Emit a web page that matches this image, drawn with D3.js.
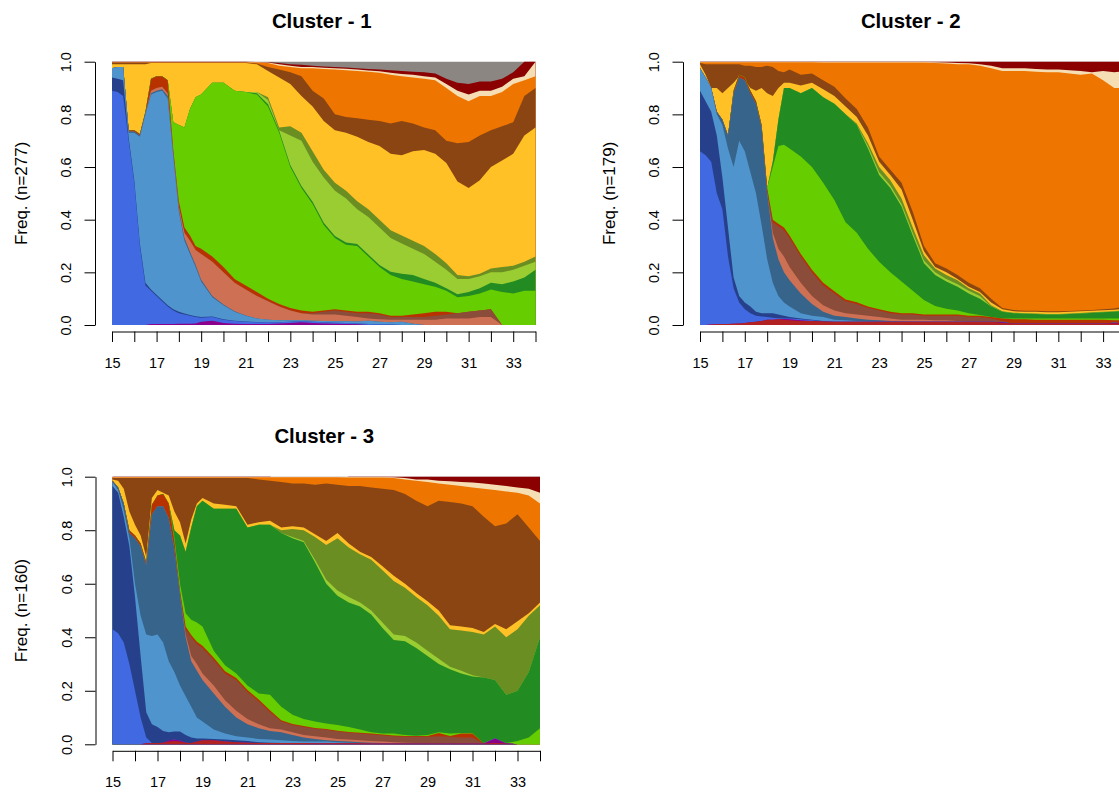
<!DOCTYPE html>
<html><head><meta charset="utf-8">
<script src="https://cdn.jsdelivr.net/npm/d3@7"></script>
<style>body{margin:0;background:#fff;} svg{display:block;font-family:"Liberation Sans",Arial,sans-serif;}</style>
</head><body><svg id="chart" width="1119" height="792"></svg>
<script>
// ---- shared axes / categories ----
const ages = [15,15.25,15.5,15.75,16,16.25,16.5,16.75,17,17.25,17.5,17.75,18,18.25,18.5,18.75,19,
  19.5,20,20.5,21,21.5,22,22.5,23,23.5,24,
  24.5,25,25.5,26,26.5,27,27.5,28,28.5,29,
  29.5,30,30.5,31,31.5,32,32.5,33,33.5,34];
const stateKeys = ["firebrick","purple","royalblue","darkblue","steelblue","darksteel","salmon","sienna","orangered",
  "chartreuse","forest","yellowgreen","olive","gold","saddlebrown","orange","wheat","darkred","gray"];
const stateColors = ["#B22222","#8B008B","#4169E1","#27408B","#4F94CD","#36648B","#CD7054","#8B4C39","#B83200",
  "#66CD00","#228B22","#9ACD32","#6B8E23","#FFC125","#8B4513","#EE7600","#F5DEB3","#8B0000","#8B8682"];
const clusterTitles = ["Cluster - 1","Cluster - 2","Cluster - 3"];
const clusterN = [277,179,160];
const yTicks = [0,0.2,0.4,0.6,0.8,1.0];
const xTicks = [15,16,17,18,19,20,21,22,23,24,25,26,27,28,29,30,31,32,33,34];
const xLabels = [15,17,19,21,23,25,27,29,31,33];

// ---- cumulative upper edge of each state band (proportion), cluster 1 ----
const c1_purple = [0,0,0,0,0,0,0,0.004,0.004,0.004,0.004,0.004,0.005,0.005,0.005,0.006,0.012,
  0.016,0.008,0.005,0.004,0.004,0.004,0.006,0.008,0.01,0.008,
  0.006,0.005,0.004,0.003,0,0,0,0,0,0,
  0,0,0,0,0,0,0,0,0,0];
const c1_royalblue = [0.89,0.885,0.87,0.70,0.54,0.30,0.15,0.13,0.11,0.09,0.07,0.055,0.045,0.04,0.035,0.03,0.028,
  0.03,0.02,0.015,0.012,0.01,0.01,0.01,0.012,0.014,0.012,
  0.01,0.009,0.008,0.006,0.004,0.003,0.002,0,0,0,
  0,0,0,0,0,0,0,0,0,0];
const c1_darkblue = [0.94,0.935,0.93,0.71,0.55,0.31,0.16,0.135,0.115,0.095,0.075,0.06,0.05,0.044,0.038,0.033,0.03,
  0.032,0.022,0.016,0.013,0.011,0.01,0.01,0.012,0.014,0.012,
  0.01,0.009,0.008,0.006,0.004,0.003,0.002,0,0,0,
  0,0,0,0,0,0,0,0,0,0];
const c1_steelblue = [0.975,0.98,0.98,0.73,0.73,0.715,0.8,0.875,0.885,0.89,0.86,0.64,0.43,0.32,0.27,0.22,0.165,
  0.105,0.075,0.05,0.035,0.025,0.02,0.018,0.018,0.018,0.016,
  0.015,0.014,0.014,0.013,0.016,0.012,0.01,0.012,0.005,0,
  0,0,0,0,0,0,0,0,0,0];
const c1_darksteel = [0.975,0.98,0.98,0.735,0.735,0.72,0.805,0.88,0.89,0.895,0.87,0.65,0.44,0.33,0.278,0.228,0.172,
  0.11,0.078,0.052,0.036,0.025,0.02,0.018,0.018,0.018,0.016,
  0.015,0.014,0.014,0.013,0.016,0.012,0.01,0.012,0.005,0,
  0,0,0,0,0,0,0,0,0,0];
const c1_salmon = [0.975,0.98,0.98,0.735,0.735,0.72,0.805,0.89,0.9,0.905,0.88,0.655,0.45,0.35,0.32,0.285,0.27,
  0.24,0.2,0.16,0.135,0.11,0.09,0.07,0.055,0.045,0.04,
  0.04,0.04,0.035,0.03,0.025,0.022,0.02,0.02,0.02,0.02,
  0.02,0.025,0.025,0.025,0.03,0.03,0,0,0,0];
const c1_sienna = [0.975,0.98,0.98,0.735,0.735,0.72,0.805,0.89,0.9,0.905,0.88,0.655,0.45,0.35,0.32,0.285,0.27,
  0.24,0.2,0.16,0.135,0.11,0.09,0.07,0.055,0.045,0.045,
  0.05,0.055,0.05,0.045,0.045,0.04,0.03,0.03,0.03,0.03,
  0.035,0.04,0.045,0.05,0.055,0.06,0,0,0,0];
const c1_orangered = [0.975,0.98,0.98,0.74,0.74,0.725,0.81,0.935,0.945,0.945,0.93,0.665,0.47,0.37,0.34,0.3,0.29,
  0.26,0.22,0.175,0.15,0.125,0.1,0.08,0.065,0.055,0.05,
  0.055,0.06,0.055,0.05,0.05,0.045,0.035,0.035,0.04,0.045,
  0.05,0.05,0.045,0.05,0.055,0.06,0,0,0,0];
const c1_chartreuse = [0.975,0.98,0.98,0.74,0.74,0.725,0.81,0.935,0.945,0.945,0.93,0.77,0.76,0.75,0.82,0.865,0.875,
  0.92,0.92,0.89,0.885,0.875,0.83,0.73,0.6,0.52,0.46,
  0.38,0.33,0.305,0.3,0.26,0.22,0.19,0.175,0.165,0.155,
  0.145,0.13,0.105,0.11,0.12,0.135,0.125,0.12,0.13,0.13];
const c1_forest = [0.975,0.98,0.98,0.74,0.74,0.725,0.81,0.935,0.945,0.945,0.93,0.77,0.76,0.75,0.82,0.865,0.875,
  0.92,0.92,0.89,0.885,0.88,0.838,0.738,0.608,0.528,0.468,
  0.388,0.338,0.313,0.308,0.268,0.228,0.202,0.195,0.19,0.175,
  0.16,0.14,0.117,0.125,0.14,0.16,0.155,0.165,0.18,0.21];
const c1_yellowgreen = [0.975,0.98,0.98,0.74,0.74,0.725,0.81,0.935,0.945,0.945,0.93,0.77,0.76,0.75,0.82,0.865,0.875,
  0.92,0.92,0.89,0.885,0.885,0.855,0.74,0.72,0.7,0.62,
  0.56,0.51,0.48,0.44,0.41,0.37,0.33,0.31,0.29,0.27,
  0.24,0.21,0.175,0.175,0.185,0.2,0.2,0.21,0.225,0.24];
const c1_olive = [0.975,0.98,0.98,0.74,0.74,0.725,0.81,0.935,0.945,0.945,0.93,0.77,0.76,0.75,0.82,0.865,0.875,
  0.92,0.92,0.89,0.885,0.885,0.865,0.75,0.755,0.73,0.66,
  0.59,0.54,0.51,0.47,0.44,0.4,0.36,0.34,0.32,0.3,
  0.27,0.235,0.19,0.185,0.195,0.215,0.22,0.225,0.24,0.26];
const c1_gold = [0.99,0.99,0.99,0.99,0.99,0.99,0.99,0.995,0.995,0.995,0.995,0.995,0.995,0.995,0.995,0.995,0.995,
  0.995,0.995,0.995,0.995,0.99,0.965,0.94,0.915,0.87,0.83,
  0.775,0.74,0.73,0.715,0.695,0.68,0.65,0.645,0.66,0.665,
  0.65,0.615,0.545,0.52,0.55,0.6,0.625,0.65,0.72,0.75];
const c1_saddlebrown = [0.997,0.997,0.997,0.997,0.997,0.997,0.997,0.997,0.997,0.997,0.997,0.997,0.997,0.997,0.997,0.997,0.997,
  0.997,0.997,0.997,0.997,0.993,0.98,0.97,0.96,0.945,0.89,
  0.86,0.8,0.79,0.785,0.78,0.775,0.765,0.775,0.765,0.75,
  0.74,0.7,0.69,0.695,0.72,0.74,0.755,0.77,0.87,0.9];
const c1_orange = [0.998,0.998,0.998,0.998,0.998,0.998,0.998,0.998,0.998,0.998,0.998,0.998,0.998,0.998,0.998,0.998,0.998,
  0.998,0.998,0.998,0.998,0.997,0.995,0.985,0.98,0.975,0.975,
  0.972,0.97,0.968,0.965,0.962,0.958,0.95,0.945,0.94,0.935,
  0.93,0.9,0.87,0.85,0.87,0.87,0.885,0.915,0.93,0.945];
const c1_wheat = [0.999,0.999,0.999,0.999,0.999,0.999,0.999,0.999,0.999,0.999,0.999,0.999,0.999,0.999,0.999,0.999,0.999,
  0.999,0.999,0.999,0.999,0.998,0.997,0.99,0.985,0.98,0.98,
  0.977,0.975,0.973,0.97,0.967,0.964,0.958,0.953,0.95,0.945,
  0.94,0.915,0.89,0.875,0.89,0.89,0.905,0.935,0.945,1.0];
const c1_darkred = [1,1,1,1,1,1,1,1,1,1,1,1,1,1,1,1,1,
  1,1,1,1,0.999,0.998,0.995,0.99,0.988,0.985,
  0.982,0.98,0.978,0.975,0.972,0.97,0.968,0.965,0.962,0.96,
  0.955,0.935,0.92,0.915,0.925,0.925,0.935,0.96,1.0,1.0];
const c1_gray = [1,1,1,1,1,1,1,1,1,1,1,1,1,1,1,1,1,
  1,1,1,1,1,1,1,1,1,1,
  1,1,1,1,1,1,1,1,1,1,
  1,1,1,1,1,1,1,1,1,1];

// ---- cluster 2 ----
const c2_firebrick = [0,0,0.002,0.003,0.004,0.004,0.005,0.006,0.008,0.01,0.012,0.015,0.02,0.02,0.022,0.02,0.018,
  0.015,0.015,0.013,0.012,0.012,0.012,0.012,0.012,0.012,0.012,
  0.012,0.012,0.012,0.012,0.012,0.012,0.012,0.012,0.008,0.006,
  0.006,0.006,0.006,0.006,0.006,0.006,0.006,0.006,0.006,0.006];
const c2_purple = [0,0,0.002,0.003,0.004,0.004,0.005,0.006,0.008,0.01,0.012,0.015,0.02,0.02,0.022,0.023,0.022,
  0.018,0.015,0.013,0.012,0.012,0.012,0.012,0.012,0.012,0.012,
  0.012,0.012,0.012,0.012,0.012,0.012,0.012,0.012,0.01,0.006,
  0.006,0.006,0.006,0.006,0.006,0.006,0.006,0.006,0.009,0.006];
const c2_royalblue = [0.66,0.645,0.62,0.5,0.44,0.26,0.14,0.085,0.06,0.045,0.035,0.032,0.03,0.028,0.026,0.025,0.025,
  0.022,0.018,0.013,0.012,0.012,0.012,0.012,0.012,0.012,0.012,
  0.012,0.012,0.012,0.012,0.012,0.012,0.012,0.012,0.01,0.006,
  0.006,0.006,0.006,0.006,0.006,0.006,0.006,0.006,0.009,0.006];
const c2_darkblue = [0.89,0.85,0.81,0.72,0.56,0.37,0.18,0.11,0.085,0.07,0.05,0.045,0.045,0.045,0.04,0.035,0.03,
  0.025,0.02,0.015,0.012,0.012,0.012,0.012,0.012,0.012,0.012,
  0.012,0.012,0.012,0.012,0.012,0.012,0.012,0.012,0.01,0.006,
  0.006,0.006,0.006,0.006,0.006,0.006,0.006,0.006,0.009,0.006];
const c2_steelblue = [0.975,0.94,0.9,0.8,0.76,0.67,0.6,0.7,0.66,0.58,0.5,0.38,0.25,0.16,0.11,0.085,0.07,
  0.045,0.035,0.03,0.02,0.018,0.015,0.013,0.012,0.012,0.012,
  0.012,0.012,0.012,0.012,0.012,0.012,0.012,0.012,0.01,0.006,
  0.006,0.006,0.006,0.006,0.006,0.006,0.006,0.006,0.009,0.006];
const c2_darksteel = [0.975,0.94,0.9,0.81,0.78,0.72,0.88,0.94,0.93,0.88,0.84,0.75,0.5,0.33,0.25,0.2,0.17,
  0.12,0.08,0.05,0.035,0.03,0.025,0.02,0.018,0.015,0.013,
  0.012,0.012,0.012,0.012,0.012,0.012,0.012,0.012,0.01,0.006,
  0.006,0.006,0.006,0.006,0.006,0.006,0.006,0.006,0.009,0.006];
const c2_salmon = [0.975,0.94,0.9,0.81,0.78,0.72,0.88,0.94,0.93,0.88,0.84,0.75,0.5,0.35,0.29,0.26,0.22,
  0.16,0.11,0.075,0.055,0.045,0.04,0.035,0.03,0.025,0.02,
  0.02,0.02,0.018,0.018,0.015,0.012,0.012,0.012,0.01,0.006,
  0.006,0.006,0.006,0.006,0.006,0.006,0.006,0.006,0.009,0.006];
const c2_sienna = [0.975,0.94,0.9,0.81,0.78,0.72,0.88,0.94,0.93,0.88,0.84,0.75,0.51,0.39,0.375,0.36,0.33,
  0.26,0.2,0.15,0.12,0.09,0.08,0.065,0.055,0.045,0.04,
  0.04,0.035,0.035,0.035,0.035,0.03,0.03,0.025,0.015,0.006,
  0.006,0.006,0.006,0.006,0.006,0.006,0.006,0.006,0.009,0.006];
const c2_orangered = [0.975,0.94,0.9,0.81,0.78,0.72,0.89,0.95,0.94,0.89,0.85,0.76,0.52,0.4,0.385,0.37,0.34,
  0.27,0.21,0.16,0.128,0.097,0.086,0.07,0.06,0.05,0.045,
  0.045,0.04,0.04,0.04,0.04,0.035,0.035,0.03,0.025,0.022,
  0.022,0.02,0.02,0.02,0.02,0.02,0.02,0.02,0.018,0.018];
const c2_chartreuse = [0.975,0.94,0.9,0.81,0.78,0.72,0.89,0.95,0.94,0.89,0.85,0.76,0.52,0.6,0.68,0.685,0.67,
  0.64,0.6,0.54,0.475,0.39,0.35,0.29,0.24,0.2,0.165,
  0.13,0.095,0.072,0.062,0.055,0.045,0.038,0.03,0.025,0.025,
  0.025,0.025,0.025,0.025,0.025,0.025,0.025,0.025,0.025,0.025];
const c2_forest = [0.975,0.94,0.9,0.81,0.78,0.72,0.89,0.95,0.94,0.89,0.85,0.76,0.52,0.62,0.78,0.9,0.9,
  0.88,0.9,0.865,0.84,0.8,0.76,0.67,0.57,0.52,0.45,
  0.34,0.235,0.19,0.165,0.145,0.12,0.1,0.07,0.05,0.045,
  0.043,0.042,0.04,0.04,0.042,0.044,0.046,0.048,0.05,0.055];
const c2_yellowgreen = [0.975,0.94,0.9,0.81,0.78,0.72,0.89,0.95,0.94,0.89,0.85,0.76,0.52,0.62,0.78,0.9,0.9,
  0.88,0.9,0.865,0.84,0.8,0.76,0.68,0.58,0.53,0.46,
  0.35,0.245,0.2,0.175,0.155,0.13,0.11,0.07,0.05,0.045,
  0.043,0.042,0.04,0.04,0.042,0.044,0.046,0.048,0.05,0.055];
const c2_olive = [0.975,0.94,0.9,0.81,0.78,0.72,0.89,0.95,0.94,0.89,0.85,0.76,0.52,0.62,0.78,0.9,0.9,
  0.88,0.9,0.865,0.84,0.8,0.765,0.69,0.6,0.55,0.48,
  0.37,0.265,0.215,0.19,0.17,0.14,0.12,0.075,0.052,0.047,
  0.045,0.044,0.042,0.042,0.044,0.046,0.048,0.05,0.052,0.057];
const c2_gold = [0.99,0.95,0.9,0.9,0.88,0.9,0.92,0.945,0.93,0.9,0.89,0.9,0.88,0.87,0.9,0.92,0.92,
  0.91,0.92,0.895,0.87,0.83,0.79,0.72,0.62,0.57,0.515,
  0.4,0.28,0.22,0.2,0.175,0.145,0.125,0.085,0.06,0.052,
  0.05,0.05,0.048,0.048,0.05,0.052,0.054,0.056,0.058,0.062];
const c2_saddlebrown = [0.995,0.99,0.99,0.99,0.99,0.99,0.99,0.99,0.985,0.985,0.98,0.98,0.985,0.98,0.965,0.96,0.97,
  0.95,0.955,0.93,0.905,0.86,0.82,0.75,0.64,0.59,0.54,
  0.43,0.3,0.235,0.215,0.19,0.16,0.14,0.1,0.065,0.057,
  0.054,0.054,0.052,0.052,0.053,0.055,0.057,0.06,0.063,0.072];
const c2_orange = [0.998,0.998,0.998,0.998,0.998,0.998,0.998,0.998,0.998,0.998,0.998,0.998,0.998,0.998,0.998,0.998,0.998,
  0.998,0.998,0.997,0.997,0.997,0.997,0.997,0.997,0.997,0.997,
  0.997,0.997,0.995,0.993,0.99,0.99,0.985,0.975,0.965,0.965,
  0.965,0.962,0.96,0.96,0.955,0.95,0.955,0.93,0.9,0.9];
const c2_wheat = [0.999,0.999,0.999,0.999,0.999,0.999,0.999,0.999,0.999,0.999,0.999,0.999,0.999,0.999,0.999,0.999,0.999,
  0.999,0.999,0.999,0.999,0.999,0.999,0.999,0.999,0.999,0.999,
  0.999,0.999,0.998,0.997,0.995,0.994,0.99,0.985,0.975,0.975,
  0.975,0.972,0.97,0.97,0.968,0.965,0.96,0.965,0.96,0.965];
const c2_darkred = c1_gray;

// ---- cluster 3 ----
const c3_firebrick = [0,0,0,0,0,0,0.004,0.005,0.005,0.006,0.01,0.012,0.01,0.006,0.005,0.01,0.015,
  0.015,0.01,0.008,0.006,0.005,0.005,0.005,0.005,0.005,0.004,
  0.004,0.004,0.004,0.004,0.003,0.003,0.003,0.003,0.003,0.003,
  0.003,0.003,0.003,0.003,0.003,0.005,0.003,0,0,0];
const c3_purple = [0,0,0,0,0,0,0.004,0.005,0.005,0.006,0.015,0.018,0.014,0.006,0.005,0.01,0.015,
  0.015,0.01,0.008,0.006,0.005,0.005,0.005,0.005,0.005,0.004,
  0.004,0.004,0.004,0.004,0.003,0.003,0.003,0.003,0.003,0.003,
  0.003,0.003,0.003,0.003,0.003,0.022,0.003,0,0,0];
const c3_royalblue = [0.43,0.415,0.38,0.3,0.2,0.1,0.025,0.005,0.005,0.006,0.015,0.018,0.014,0.006,0.005,0.01,0.015,
  0.015,0.01,0.008,0.006,0.005,0.005,0.005,0.005,0.005,0.004,
  0.004,0.004,0.004,0.004,0.003,0.003,0.003,0.003,0.003,0.003,
  0.003,0.003,0.003,0.003,0.003,0.022,0.003,0,0,0];
const c3_darkblue = [0.965,0.94,0.85,0.74,0.55,0.33,0.12,0.075,0.065,0.05,0.045,0.048,0.048,0.035,0.025,0.022,0.022,
  0.02,0.018,0.015,0.012,0.008,0.006,0.005,0.005,0.005,0.004,
  0.004,0.004,0.004,0.004,0.003,0.003,0.003,0.003,0.003,0.003,
  0.003,0.003,0.003,0.003,0.003,0.022,0.003,0,0,0];
const c3_steelblue = [0.98,0.95,0.875,0.77,0.6,0.48,0.41,0.405,0.41,0.38,0.31,0.27,0.22,0.18,0.14,0.1,0.085,
  0.055,0.04,0.03,0.025,0.02,0.018,0.015,0.012,0.01,0.01,
  0.01,0.008,0.006,0.005,0.003,0.003,0.003,0.003,0.003,0.003,
  0.003,0.003,0.003,0.003,0.003,0.022,0.003,0,0,0];
const c3_darksteel = [0.985,0.96,0.9,0.79,0.77,0.74,0.67,0.86,0.89,0.89,0.845,0.73,0.56,0.4,0.31,0.275,0.24,
  0.19,0.14,0.1,0.075,0.06,0.05,0.045,0.035,0.025,0.02,
  0.015,0.012,0.01,0.008,0.006,0.005,0.004,0.003,0.003,0.003,
  0.003,0.003,0.003,0.003,0.003,0.022,0.003,0,0,0];
const c3_salmon = [0.985,0.96,0.9,0.79,0.77,0.74,0.67,0.86,0.89,0.89,0.845,0.73,0.56,0.41,0.33,0.3,0.265,
  0.22,0.165,0.125,0.095,0.075,0.06,0.055,0.045,0.035,0.03,
  0.025,0.02,0.018,0.015,0.012,0.01,0.008,0.006,0.005,0.005,
  0.005,0.005,0.005,0.005,0.005,0.022,0.003,0,0,0];
const c3_sienna = [0.985,0.96,0.9,0.79,0.77,0.74,0.67,0.86,0.89,0.89,0.845,0.73,0.565,0.43,0.4,0.375,0.36,
  0.315,0.265,0.24,0.195,0.16,0.12,0.085,0.072,0.065,0.058,
  0.054,0.048,0.043,0.04,0.037,0.034,0.03,0.028,0.028,0.028,
  0.03,0.028,0.025,0.025,0.003,0.022,0.003,0,0,0];
const c3_orangered = [0.985,0.96,0.9,0.8,0.78,0.75,0.68,0.895,0.93,0.935,0.9,0.76,0.575,0.44,0.408,0.383,0.368,
  0.323,0.273,0.248,0.203,0.167,0.127,0.09,0.076,0.068,0.061,
  0.057,0.051,0.046,0.043,0.04,0.037,0.033,0.031,0.031,0.031,
  0.042,0.031,0.04,0.04,0.003,0.022,0.003,0,0,0];
const c3_chartreuse = [0.985,0.96,0.9,0.8,0.78,0.75,0.68,0.895,0.93,0.935,0.9,0.77,0.6,0.49,0.465,0.455,0.44,
  0.35,0.295,0.265,0.22,0.19,0.185,0.14,0.11,0.095,0.085,
  0.078,0.072,0.065,0.055,0.045,0.04,0.04,0.035,0.032,0.035,
  0.045,0.04,0.042,0.042,0.003,0.022,0.005,0.012,0.025,0.06];
const c3_forest = [0.985,0.96,0.9,0.8,0.78,0.75,0.68,0.895,0.93,0.935,0.9,0.8,0.78,0.72,0.81,0.89,0.91,
  0.88,0.88,0.88,0.81,0.82,0.82,0.79,0.77,0.755,0.68,
  0.6,0.555,0.53,0.515,0.485,0.435,0.39,0.385,0.36,0.33,
  0.3,0.28,0.265,0.253,0.25,0.24,0.185,0.2,0.27,0.4];
const c3_yellowgreen = [0.985,0.96,0.9,0.8,0.78,0.75,0.68,0.895,0.93,0.935,0.9,0.8,0.78,0.72,0.81,0.89,0.91,
  0.88,0.88,0.88,0.81,0.82,0.82,0.79,0.775,0.76,0.69,
  0.615,0.575,0.55,0.53,0.5,0.455,0.41,0.405,0.38,0.35,
  0.32,0.29,0.275,0.258,0.25,0.24,0.185,0.2,0.27,0.4];
const c3_olive = [0.985,0.96,0.9,0.8,0.78,0.75,0.68,0.895,0.93,0.935,0.9,0.8,0.78,0.72,0.81,0.89,0.91,
  0.88,0.88,0.88,0.81,0.82,0.82,0.8,0.805,0.8,0.775,
  0.745,0.77,0.735,0.71,0.69,0.65,0.61,0.585,0.55,0.52,
  0.48,0.43,0.425,0.42,0.41,0.44,0.4,0.43,0.48,0.52];
const c3_gold = [0.99,0.985,0.955,0.87,0.82,0.78,0.7,0.92,0.95,0.94,0.93,0.87,0.83,0.75,0.84,0.9,0.92,
  0.9,0.895,0.89,0.82,0.83,0.835,0.81,0.815,0.81,0.785,
  0.76,0.79,0.75,0.72,0.7,0.665,0.63,0.6,0.565,0.535,
  0.5,0.445,0.44,0.435,0.42,0.45,0.43,0.46,0.49,0.53];
const c3_saddlebrown = [0.995,0.995,0.995,0.995,0.995,0.995,0.995,0.995,0.995,0.995,0.995,0.995,0.995,0.995,0.995,0.995,0.995,
  0.995,0.995,0.995,0.995,0.99,0.985,0.98,0.975,0.975,0.97,
  0.975,0.97,0.965,0.965,0.96,0.955,0.95,0.935,0.91,0.89,
  0.91,0.905,0.9,0.89,0.85,0.815,0.825,0.86,0.81,0.76];
const c3_orange = [0.998,0.998,0.998,0.998,0.998,0.998,0.998,0.998,0.998,0.998,0.998,0.998,0.998,0.998,0.998,0.998,0.998,
  0.998,0.998,0.998,0.998,0.998,0.998,0.998,0.998,0.998,0.998,
  0.998,0.998,0.997,0.997,0.997,0.997,0.995,0.99,0.985,0.98,
  0.975,0.97,0.965,0.96,0.955,0.95,0.945,0.94,0.93,0.9];
const c3_wheat = [0.999,0.999,0.999,0.999,0.999,0.999,0.999,0.999,0.999,0.999,0.999,0.999,0.999,0.999,0.999,0.999,0.999,
  0.999,0.999,0.999,0.999,0.999,0.999,0.999,0.999,0.999,0.999,
  0.999,0.999,0.999,0.999,0.999,0.999,0.998,0.995,0.99,0.99,
  0.985,0.983,0.98,0.978,0.975,0.97,0.965,0.96,0.955,0.94];
const c3_darkred = [1,1,1,1,1,1,1,1,1,1,1,1,1,1,1,1,1,
  1,1,1,1,1,1,0.992,0.992,0.992,0.992,
  0.992,0.992,1,1,1,1,1,1,1,1,
  1,1,1,1,1,1,1,1,1,1];
const c3_gray = c1_gray;

// tables built from the named arrays (a missing state is a zero-width band)
const clusterTops = [
  {purple:c1_purple, royalblue:c1_royalblue, darkblue:c1_darkblue, steelblue:c1_steelblue, darksteel:c1_darksteel,
   salmon:c1_salmon, sienna:c1_sienna, orangered:c1_orangered, chartreuse:c1_chartreuse, forest:c1_forest,
   yellowgreen:c1_yellowgreen, olive:c1_olive, gold:c1_gold, saddlebrown:c1_saddlebrown, orange:c1_orange,
   wheat:c1_wheat, darkred:c1_darkred, gray:c1_gray},
  {firebrick:c2_firebrick, purple:c2_purple, royalblue:c2_royalblue, darkblue:c2_darkblue, steelblue:c2_steelblue,
   darksteel:c2_darksteel, salmon:c2_salmon, sienna:c2_sienna, orangered:c2_orangered, chartreuse:c2_chartreuse,
   forest:c2_forest, yellowgreen:c2_yellowgreen, olive:c2_olive, gold:c2_gold, saddlebrown:c2_saddlebrown,
   orange:c2_orange, wheat:c2_wheat, darkred:c2_darkred},
  {firebrick:c3_firebrick, purple:c3_purple, royalblue:c3_royalblue, darkblue:c3_darkblue, steelblue:c3_steelblue,
   darksteel:c3_darksteel, salmon:c3_salmon, sienna:c3_sienna, orangered:c3_orangered, chartreuse:c3_chartreuse,
   forest:c3_forest, yellowgreen:c3_yellowgreen, olive:c3_olive, gold:c3_gold, saddlebrown:c3_saddlebrown,
   orange:c3_orange, wheat:c3_wheat, darkred:c3_darkred, gray:c3_gray}
];

// ---- layout ----
const panels = [
  {left:112, right:535.5, top:61.7, bottom:325},
  {left:700, right:1125.5, top:61.7, bottom:325},
  {left:112.5, right:540, top:476.7, bottom:744.3}
];

const svg = d3.select("#chart");
const FONT = "Liberation Sans, Arial, sans-serif";

panels.forEach((p, ci) => {
  const x = d3.scaleLinear().domain([15,34]).range([p.left, p.right]);
  const y = d3.scaleLinear().domain([0,1]).range([p.bottom, p.top]);
  const g = svg.append("g");
  const tops = clusterTops[ci];

  let prev = null;
  const bands = stateKeys.map((k, i) => {
    const t = tops[k] ? tops[k] : prev;
    prev = t;
    return {key:k, color:stateColors[i], top:t};
  }).filter(b => b.top);
  const area = d3.area()
    .x((d, i) => x(ages[i]))
    .y0(y(0))
    .y1(d => y(d))
    .curve(d3.curveLinear);
  // paint from the top state down so each band covers the ones above it (no seams)
  for (let i = bands.length - 1; i >= 0; i--) {
    const b = bands[i];
    g.append("path").datum(b.top).attr("d", area).attr("fill", b.color);
  }

  // y axis
  const yAxis = d3.axisLeft(y).tickValues(yTicks).tickFormat(d3.format(".1f")).tickSize(10.5).tickSizeOuter(0);
  const ya = svg.append("g").attr("transform", `translate(${p.left - 17},0)`).call(yAxis);
  ya.select(".domain").attr("stroke", "#000");
  ya.selectAll(".tick line").attr("stroke", "#000");
  ya.selectAll(".tick text")
    .attr("transform", "rotate(-90)")
    .attr("x", 0).attr("y", -24).attr("dy", 0)
    .attr("text-anchor", "middle")
    .attr("font-size", 14.5).attr("fill", "#000")
    .attr("font-family", FONT);

  // x axis
  const xAxis = d3.axisBottom(x).tickValues(xTicks)
    .tickFormat(d => xLabels.includes(d) ? d : "").tickSize(10.5).tickSizeOuter(0);
  const xa = svg.append("g").attr("transform", `translate(0,${p.bottom + 6.5})`).call(xAxis);
  xa.select(".domain").attr("stroke", "#000");
  xa.selectAll(".tick line").attr("stroke", "#000");
  xa.selectAll(".tick text").attr("y", 26.4).attr("font-size", 14.5).attr("fill", "#000")
    .attr("font-family", FONT);

  // y title
  svg.append("text")
    .attr("transform", `translate(${p.left - 85.5},${(p.top + p.bottom) / 2}) rotate(-90)`)
    .attr("text-anchor", "middle").attr("font-size", 17).attr("font-family", FONT)
    .text(`Freq. (n=${clusterN[ci]})`);

  // title
  svg.append("text")
    .attr("x", (p.left + p.right) / 2 - 2).attr("y", p.top - 34)
    .attr("text-anchor", "middle").attr("font-size", 20.4).attr("font-weight", "bold").attr("font-family", FONT)
    .text(clusterTitles[ci]);
});
</script>
</body></html>
